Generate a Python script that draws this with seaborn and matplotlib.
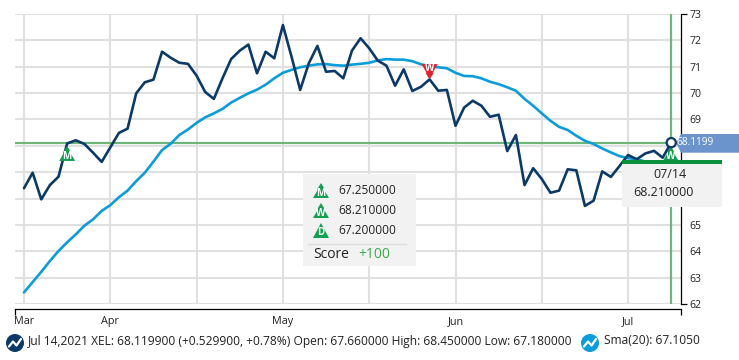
import numpy as np
import pandas as pd
import seaborn as sns
import matplotlib.pyplot as plt
from matplotlib.patches import Polygon, Rectangle, Circle
from matplotlib.transforms import Affine2D

# values, one per trading day
price = [66.39, 66.98, 65.97, 66.51, 66.83, 68.09, 68.21, 68.07, 67.74, 67.39,
         67.94, 68.49, 68.65, 69.99, 70.41, 70.51, 71.57, 71.34, 71.15, 71.11,
         70.66, 70.04, 69.78, 70.56, 71.29, 71.61, 71.84, 70.75, 71.57, 71.32,
         72.58, 71.38, 70.12, 71.13, 71.79, 70.81, 70.84, 70.56, 71.61, 72.08,
         71.70, 71.23, 71.04, 70.28, 70.90, 70.08, 70.24, 70.52, 70.09, 70.12,
         68.76, 69.45, 69.71, 69.52, 69.10, 69.18, 67.80, 68.41, 66.51, 67.15,
         66.74, 66.22, 66.30, 67.11, 67.07, 65.72, 65.92, 67.03, 66.82, 67.23,
         67.65, 67.49, 67.71, 67.81, 67.55, 68.12]
sma = [62.44, 62.83, 63.22, 63.63, 64.01, 64.34, 64.64, 64.97, 65.21, 65.53,
       65.75, 66.05, 66.30, 66.66, 66.98, 67.40, 67.84, 68.08, 68.41, 68.62,
       68.87, 69.08, 69.23, 69.40, 69.64, 69.82, 69.99, 70.13, 70.32, 70.56,
       70.77, 70.88, 70.98, 71.04, 71.09, 71.10, 71.06, 71.04, 71.08, 71.11,
       71.15, 71.24, 71.29, 71.27, 71.27, 71.21, 71.09, 71.03, 70.98, 70.94,
       70.77, 70.65, 70.64, 70.56, 70.43, 70.34, 70.22, 70.09, 69.78, 69.52,
       69.23, 68.95, 68.72, 68.60, 68.38, 68.19, 68.07, 67.90, 67.75, 67.61,
       67.53, 67.49, 67.40, 67.30, 67.20, 67.105]
y_ticks = list(range(62, 74))
# 66, 67 and 68 sit behind the boxes in the original
y_labels = ['62', '63', '64', '65', '', '', '', '69', '70', '71', '72', '73']
x_grid = [0, 10, 20, 30, 40, 50, 60, 70]
x_labels = ['Mar', 'Apr', '', 'May', '', 'Jun', '', 'Jul']
last_price = 68.1199
tip_values = ['67.250000', '68.210000', '67.200000']
tip_letters = ['M', 'W', 'D']
legend_main = 'Jul 14,2021 XEL: 68.119900 (+0.529900, +0.78%) Open: 67.660000 High: 68.450000 Low: 67.180000'
legend_sma = 'Sma(20): 67.1050'

NAVY = '#0c3a68'
BLUE = '#0a9ddc'
GREEN = '#12a150'
LINE_GREEN = '#6db678'
GRID = '#e0e0e0'

sns.set_theme(style='white')
plt.rcParams['font.family'] = ['Open Sans', 'DejaVu Sans']

fig = plt.figure(figsize=(7.39, 3.6), dpi=100)
ax = fig.add_axes([15/739, 56/360, 666/739, 290/360])

df = pd.DataFrame({'day': np.arange(len(price)), 'price': price, 'sma': sma})
sns.lineplot(data=df, x='day', y='sma', color=BLUE, lw=1.9, ax=ax, zorder=3)
sns.lineplot(data=df, x='day', y='price', color=NAVY, lw=1.9, ax=ax, zorder=4)

ax.set_xlim(-9/8.63, 657/8.63)
ax.set_ylim(62, 73)
ax.set_xlabel('')
ax.set_ylabel('')

# grid
ax.set_xticks(x_grid)
ax.set_xticklabels(x_labels)
ax.set_xticks(ax.get_xlim(), minor=True)
ax.tick_params(axis='x', which='major', length=0, pad=5, labelsize=7.8, labelcolor='#222222')
ax.tick_params(axis='x', which='minor', length=4.3, width=0.9, color='black', direction='out', bottom=True)
ax.grid(True, color=GRID, lw=1.5, which='major')
ax.set_axisbelow(True)

ax.yaxis.tick_right()
ax.set_yticks(y_ticks)
ax.set_yticklabels(y_labels)
ax.tick_params(axis='y', length=4.3, width=0.9, color='black', pad=2, labelsize=7.6, labelcolor='#222222', right=True)
for t in ax.yaxis.get_major_ticks()[1:-1]:
    t.tick2line.set_visible(False)

for s in ['top', 'left']:
    ax.spines[s].set_visible(False)
ax.spines['right'].set_color('black')
ax.spines['right'].set_linewidth(0.9)
ax.spines['bottom'].set_color('black')
ax.spines['bottom'].set_linewidth(0.9)
ax.spines['bottom'].set_position(('outward', 3.9))

# crosshair
ax.axhline(last_price, color=LINE_GREEN, lw=1.6, zorder=2)
ax.axvline(len(price) - 1, color=LINE_GREEN, lw=1.6, zorder=2)

# pixel coordinates, origin top left
pix = Affine2D().scale(1/739, -1/360).translate(0, 1) + fig.transFigure


def to_pix(i, v):
    px, py = ax.transData.transform((i, v))
    return px, 360 - py


def icon(cx, top, letter, color=GREEN, down=False, z=5):
    if down:
        pts = [(-8, 0), (8, 0), (3, 9), (4, 9), (0, 15.3), (-4, 9), (-3, 9)]
        ty = top + 4.8
    elif letter == 'D':
        pts = [(0, 0), (8, 15), (-8, 15)]
        ty = top + 9.8
    else:
        pts = [(0, 0), (4, 6.5), (3, 6.5), (8, 15), (-8, 15), (-3, 6.5), (-4, 6.5)]
        ty = top + 10.6
    ax.add_patch(Polygon([(cx + a, top + b) for a, b in pts], closed=True, fc=color, ec='none',
                         transform=pix, clip_on=False, zorder=z))
    ax.text(cx, ty, letter, color='white', fontsize=7, fontweight='bold', ha='center', va='center',
            transform=pix, zorder=z + 0.1)


# signal icons on the chart
x5, y5 = to_pix(5, price[5])
icon(x5, y5 + 2.5, 'M')
x47, y47 = to_pix(47, price[47])
icon(x47, y47 - 15.3, 'W', color='#e2202c', down=True)
x75, y75 = to_pix(75, price[75])
icon(x75 - 0.5, y75 + 3.5, 'W', z=3.5)

# hover box
ax.add_patch(Rectangle((303, 174), 113, 92, fc='#f2f2f2', ec='none', transform=pix, clip_on=False, zorder=6))
for k, (val, let) in enumerate(zip(tip_values, tip_letters)):
    icon(321, 183 + 20 * k, let, z=7)
    ax.text(338, 191 + 20 * k, val, fontsize=8.6, color='#222222', va='center', ha='left', transform=pix, zorder=7)
ax.plot([308, 406], [244, 244], color='#dddddd', lw=1, transform=pix, clip_on=False, zorder=7)
ax.text(313, 254, 'Score', fontsize=10, color='#222222', va='center', ha='left', transform=pix, zorder=7)
ax.text(358, 254, '+100', fontsize=10, color='#3aaa4a', va='center', ha='left', transform=pix, zorder=7)

# date box
ax.add_patch(Rectangle((622, 163), 100, 44, fc='#f2f2f2', ec='none', transform=pix, clip_on=False, zorder=6))
ax.add_patch(Rectangle((622, 160), 100, 3.7, fc='#0b8f3a', ec='none', transform=pix, clip_on=False, zorder=6.5))
ax.text(670, 175, '07/14', fontsize=9, color='#222222', ha='center', va='center', transform=pix, zorder=7)
ax.text(663, 193, '68.210000', fontsize=9, color='#222222', ha='center', va='center', transform=pix, zorder=7)

# price tag
ax.add_patch(Polygon([(676, y75), (681, 134), (739, 134), (739, 152.7), (681, 152.7)], closed=True, fc='#6a94cb',
                     ec='none', transform=pix, clip_on=False, zorder=5))
ax.text(676.5, y75 + 0.3, '{:.4f}'.format(last_price), fontsize=7.2, color='white', va='center', ha='left',
        transform=pix, zorder=5.1)
ax.add_patch(Circle((x75, y75), 4.6, fc='white', ec=NAVY, lw=1.6, transform=pix, clip_on=False, zorder=5.5))


# legend row
def badge(cx, cy, color):
    ax.add_patch(Circle((cx, cy), 9, fc=color, ec='none', transform=pix, clip_on=False, zorder=5))
    ax.plot([cx - 6, cx - 2, cx + 1.5, cx + 6], [cy + 3.5, cy - 1.5, cy + 2.5, cy - 4], color='white', lw=1.6,
            transform=pix, clip_on=False, zorder=5.1)


badge(15, 343, NAVY)
ax.text(28, 341, legend_main, fontsize=8.68, color='#222222', va='center', ha='left', transform=pix)
badge(590, 343, BLUE)
ax.text(604, 341, legend_sma, fontsize=8.68, color='#222222', va='center', ha='left', transform=pix)

fig.savefig('out.png', dpi=100)
